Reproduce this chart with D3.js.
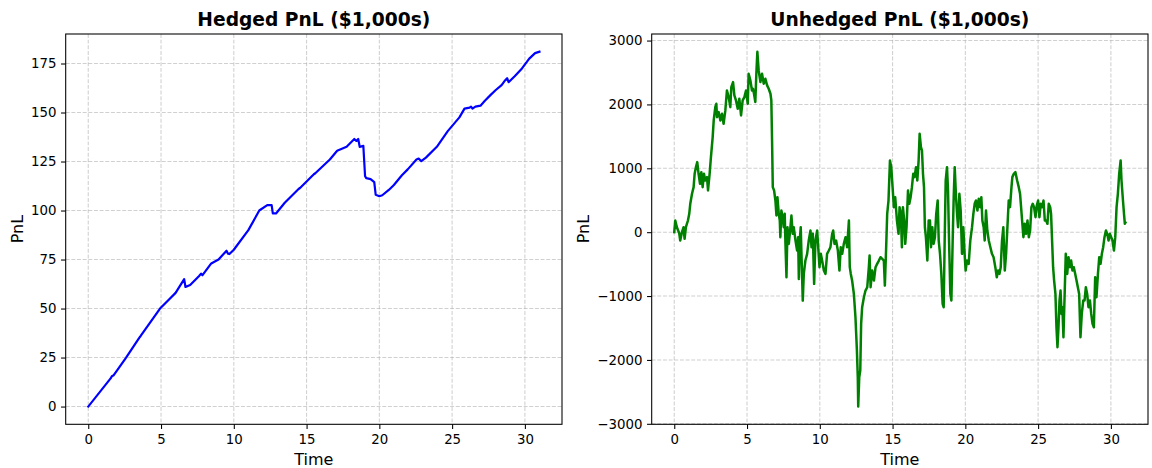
<!DOCTYPE html>
<html>
<head>
<meta charset="utf-8">
<script src="https://cdn.jsdelivr.net/npm/d3@7"></script>
<style>
  html, body { margin: 0; padding: 0; background: #fff; }
  svg { display: block; font-family: "DejaVu Sans", sans-serif; }
</style>
</head>
<body>
<svg id="chart" width="1152" height="468"></svg>
<script>
// ---------------- data ----------------
const hedgedTime = [0, 1.55, 1.62, 1.75, 2.6, 3.5, 3.6, 4.93, 5.6, 6.0, 6.59, 6.68, 7.0, 7.6, 7.75, 7.85, 8.45, 8.95, 9.5, 9.6, 9.7, 10.0, 11.0, 11.75, 12.3, 12.6, 12.68, 12.9, 13.5, 14.45, 14.55, 15.5, 15.6, 16.6, 17.1, 17.75, 18.28, 18.42, 18.55, 18.65, 18.9, 19.02, 19.1, 19.4, 19.65, 19.75, 20.0, 20.2, 20.65, 21.0, 21.55, 21.95, 22.55, 22.7, 22.88, 23.2, 23.95, 24.7, 25.5, 25.85, 26.2, 26.3, 26.4, 26.6, 26.95, 27.25, 27.65, 28.0, 28.4, 28.65, 28.78, 28.88, 29.3, 29.8, 30.3, 30.7, 31.0];
const hedgedValue = [0, 14.5, 15.5, 16, 25, 35, 36, 50, 55, 58, 65, 61, 62, 66.5, 67.8, 67, 73, 75, 79.5, 78, 77.8, 80, 90, 100, 102.8, 102.8, 98.5, 98.5, 104, 111, 111.5, 118.5, 119, 126, 130.5, 132.5, 136.5, 135.5, 136.5, 132.5, 133, 117.5, 116.5, 116, 114.5, 108, 107.3, 107.8, 110.5, 113, 118, 121, 126, 126.5, 125.2, 127, 132.5, 140.5, 147.5, 152, 152.5, 153, 152, 153, 153.5, 156, 159, 161.5, 164, 166.5, 167.5, 165.5, 168.5, 172.5, 177.5, 180.3, 181];

const unhedgedTime = [0.00, 0.07, 0.18, 0.34, 0.41, 0.53, 0.64, 0.71, 0.80, 0.94, 1.03, 1.10, 1.22, 1.33, 1.40, 1.49, 1.58, 1.67, 1.77, 1.86, 1.95, 2.04, 2.13, 2.25, 2.32, 2.43, 2.52, 2.64, 2.71, 2.82, 2.89, 2.94, 3.05, 3.17, 3.28, 3.39, 3.51, 3.62, 3.74, 3.85, 3.92, 4.04, 4.13, 4.24, 4.36, 4.47, 4.59, 4.70, 4.82, 4.93, 5.05, 5.11, 5.23, 5.34, 5.41, 5.48, 5.57, 5.64, 5.71, 5.80, 5.92, 6.03, 6.15, 6.26, 6.38, 6.49, 6.61, 6.67, 6.72, 6.77, 6.86, 6.95, 7.02, 7.09, 7.18, 7.25, 7.29, 7.36, 7.45, 7.52, 7.59, 7.64, 7.71, 7.78, 7.87, 7.96, 8.05, 8.14, 8.21, 8.33, 8.44, 8.51, 8.56, 8.62, 8.69, 8.74, 8.83, 8.90, 9.01, 9.13, 9.24, 9.36, 9.43, 9.52, 9.61, 9.70, 9.82, 9.89, 9.98, 10.07, 10.16, 10.28, 10.39, 10.50, 10.62, 10.73, 10.85, 10.92, 11.01, 11.12, 11.24, 11.35, 11.44, 11.54, 11.65, 11.77, 11.88, 12.00, 12.06, 12.13, 12.22, 12.34, 12.45, 12.55, 12.61, 12.64, 12.71, 12.78, 12.84, 12.91, 13.03, 13.14, 13.26, 13.37, 13.42, 13.49, 13.60, 13.72, 13.83, 13.94, 14.06, 14.17, 14.29, 14.40, 14.47, 14.56, 14.63, 14.72, 14.82, 14.91, 15.00, 15.09, 15.18, 15.30, 15.41, 15.48, 15.57, 15.64, 15.71, 15.80, 15.87, 15.96, 16.06, 16.15, 16.24, 16.33, 16.42, 16.51, 16.61, 16.70, 16.79, 16.86, 16.95, 17.02, 17.09, 17.16, 17.22, 17.29, 17.39, 17.48, 17.57, 17.64, 17.73, 17.82, 17.91, 18.00, 18.10, 18.17, 18.26, 18.35, 18.44, 18.51, 18.58, 18.65, 18.74, 18.81, 18.88, 18.97, 19.04, 19.13, 19.20, 19.27, 19.36, 19.43, 19.50, 19.59, 19.68, 19.77, 19.86, 19.95, 20.02, 20.11, 20.23, 20.34, 20.46, 20.55, 20.64, 20.73, 20.83, 20.92, 21.01, 21.10, 21.17, 21.26, 21.33, 21.42, 21.51, 21.61, 21.72, 21.83, 21.94, 22.06, 22.16, 22.25, 22.34, 22.43, 22.52, 22.61, 22.71, 22.80, 22.89, 22.98, 23.07, 23.17, 23.23, 23.33, 23.44, 23.56, 23.67, 23.76, 23.83, 23.90, 23.99, 24.08, 24.17, 24.27, 24.36, 24.45, 24.54, 24.63, 24.72, 24.82, 24.91, 25.00, 25.09, 25.18, 25.28, 25.37, 25.46, 25.55, 25.64, 25.73, 25.83, 25.89, 25.96, 26.03, 26.10, 26.19, 26.26, 26.33, 26.40, 26.47, 26.54, 26.61, 26.67, 26.74, 26.83, 26.90, 27.00, 27.09, 27.18, 27.27, 27.36, 27.45, 27.55, 27.64, 27.73, 27.82, 27.91, 28.00, 28.10, 28.19, 28.28, 28.37, 28.46, 28.56, 28.65, 28.74, 28.83, 28.92, 29.01, 29.11, 29.20, 29.29, 29.38, 29.47, 29.56, 29.66, 29.75, 29.84, 29.93, 30.02, 30.11, 30.21, 30.30, 30.39, 30.48, 30.57, 30.67, 30.73, 30.83, 30.92, 30.96, 31.00];
const unhedgedValue = [0, 183, 78, -16, -131, 0, 78, -104, 78, 183, 287, 444, 601, 705, 914, 1018, 1097, 914, 757, 940, 705, 914, 809, 862, 653, 914, 1175, 1488, 1749, 1958, 2010, 1802, 1880, 1749, 1854, 1697, 1906, 2219, 2115, 1958, 2272, 2350, 2141, 2063, 1932, 2089, 1828, 2063, 2115, 2219, 2010, 2480, 2376, 2219, 2245, 2167, 2037, 2480, 2825, 2533, 2350, 2480, 2324, 2402, 2298, 2245, 2167, 2063, 1436, 705, 653, 496, 261, 548, 287, 183, -78, 339, 235, 78, 287, -183, -705, 78, -183, 26, 261, -26, 78, -131, -287, -78, -731, -131, 78, -339, -1071, -653, -444, -339, -131, 26, -235, -26, -809, -131, 26, -235, -548, -339, -444, -601, -653, -339, -287, -235, -26, 26, -183, -131, -287, -601, -235, -339, -183, -78, -235, 183, -548, -653, -757, -966, -1332, -1854, -2272, -2730, -2272, -2167, -1436, -1175, -1018, -914, -862, -548, -366, -862, -601, -757, -548, -496, -444, -392, -418, -444, -836, -235, 287, 496, 1123, 1018, 705, 392, 548, 183, -26, 392, 287, -235, 392, 183, -183, 78, 653, 444, 548, 705, 914, 862, 1018, 809, 1123, 1540, 1332, 1279, 914, 705, 78, -78, -444, 183, 183, -235, 78, -183, -78, 287, 496, -131, -339, -653, -1123, -1175, -131, 809, 1018, 653, -131, -966, -1071, -131, 548, 1018, 548, 287, 78, 601, 339, -339, 78, -339, -601, -444, -496, -131, 78, 287, 444, 496, 339, 522, 392, 548, 183, 78, -131, 339, 26, -131, -235, -339, -392, -548, -705, -601, -653, -548, -131, 78, -601, -339, 78, 496, 392, 705, 862, 914, 940, 809, 705, 601, 392, 183, -78, 131, -26, 183, -78, 26, 392, 444, 392, 235, 418, 496, 235, 444, 392, 496, 183, 183, 131, 444, 392, 287, -131, -548, -757, -966, -1488, -1802, -1488, -1071, -914, -1279, -1175, -1645, -914, -339, -653, -392, -548, -444, -601, -548, -653, -757, -862, -966, -1645, -1279, -1071, -1071, -862, -966, -1175, -1071, -1279, -1436, -1488, -705, -1018, -653, -392, -496, -339, -235, -78, 26, -26, -131, -26, -78, -131, -287, -78, 392, 601, 914, 1123, 809, 496, 235, 131, 150];

const xTicks = [0, 5, 10, 15, 20, 25, 30];
const hedgedYTicks = [0, 25, 50, 75, 100, 125, 150, 175];
const unhedgedYTicks = [-3000, -2000, -1000, 0, 1000, 2000, 3000];
const titles = ["Hedged PnL ($1,000s)", "Unhedged PnL ($1,000s)"];
const xLabel = "Time";
const yLabel = "PnL";

// ---------------- drawing ----------------
const svg = d3.select("#chart");
const PT = 96 / 72;

function pad(ext) {
  const m = (ext[1] - ext[0]) * 0.05;
  return [ext[0] - m, ext[1] + m];
}

function panel(cfg) {
  const { left, right, top, bottom, times, values, yTicks, color, lineWidth, title, ylabelX } = cfg;
  const x = d3.scaleLinear().domain(pad(d3.extent(times))).range([left, right]);
  const y = d3.scaleLinear().domain(pad(d3.extent(values))).range([bottom, top]);
  const g = svg.append("g");

  // grid
  const grid = g.append("g")
    .attr("stroke", "#b0b0b0").attr("stroke-opacity", 0.6)
    .attr("stroke-width", 0.8 * PT).attr("stroke-dasharray", `${3.7 * 0.8 * PT},${1.6 * 0.8 * PT}`);
  xTicks.forEach(t => grid.append("line")
    .attr("x1", x(t)).attr("x2", x(t)).attr("y1", top).attr("y2", bottom));
  yTicks.forEach(t => grid.append("line")
    .attr("x1", left).attr("x2", right).attr("y1", y(t)).attr("y2", y(t)));

  // line
  const pts = times.map((t, i) => [t, values[i]]);
  g.append("path")
    .datum(pts)
    .attr("fill", "none")
    .attr("stroke", color)
    .attr("stroke-width", lineWidth)
    .attr("stroke-linejoin", "round")
    .attr("stroke-linecap", "square")
    .attr("d", d3.line().x(d => x(d[0])).y(d => y(d[1])));

  // axes
  const tickLen = 3.5 * PT, tickPad = 3.5 * PT;
  const xAxis = d3.axisBottom(x).tickValues(xTicks).tickSize(tickLen).tickPadding(tickPad).tickFormat(d3.format("d"));
  const yAxis = d3.axisLeft(y).tickValues(yTicks).tickSize(tickLen).tickPadding(tickPad).tickFormat(d3.format("d"));

  const gx = g.append("g").attr("transform", `translate(0,${bottom})`).call(xAxis);
  const gy = g.append("g").attr("transform", `translate(${left},0)`).call(yAxis);
  [gx, gy].forEach(a => {
    a.select(".domain").remove();
    a.selectAll(".tick line").attr("stroke", "#000").attr("stroke-width", 0.8 * PT);
    a.selectAll(".tick text").attr("fill", "#000")
      .style("font-family", "'DejaVu Sans', sans-serif").style("font-size", (10 * PT) + "px");
  });
  gx.selectAll(".tick text").attr("dy", "0.76em");

  // frame
  g.append("rect")
    .attr("x", left).attr("y", top).attr("width", right - left).attr("height", bottom - top)
    .attr("fill", "none").attr("stroke", "#000").attr("stroke-width", 0.8 * PT);

  // title
  g.append("text")
    .attr("x", (left + right) / 2).attr("y", top - 6 * PT - 0.2)
    .attr("text-anchor", "middle")
    .style("font-size", (14 * PT) + "px").style("font-weight", "bold")
    .text(title);

  // axis labels
  g.append("text")
    .attr("x", (left + right) / 2).attr("y", 464.5)
    .attr("text-anchor", "middle")
    .style("font-size", (12 * PT) + "px")
    .text(xLabel);
  g.append("text")
    .attr("transform", `translate(${ylabelX},${(top + bottom) / 2}) rotate(-90)`)
    .attr("text-anchor", "middle")
    .style("font-size", (12 * PT) + "px")
    .text(yLabel);
}

panel({ left: 65.7, right: 562, top: 34, bottom: 424.3,
  times: hedgedTime, values: hedgedValue, yTicks: hedgedYTicks,
  color: "#0000ff", lineWidth: 2.2, title: titles[0], ylabelX: 22.5 });
panel({ left: 651.7, right: 1148, top: 34, bottom: 424.3,
  times: unhedgedTime, values: unhedgedValue, yTicks: unhedgedYTicks,
  color: "#008000", lineWidth: 2.5, title: titles[1], ylabelX: 589 });
</script>
</body>
</html>
